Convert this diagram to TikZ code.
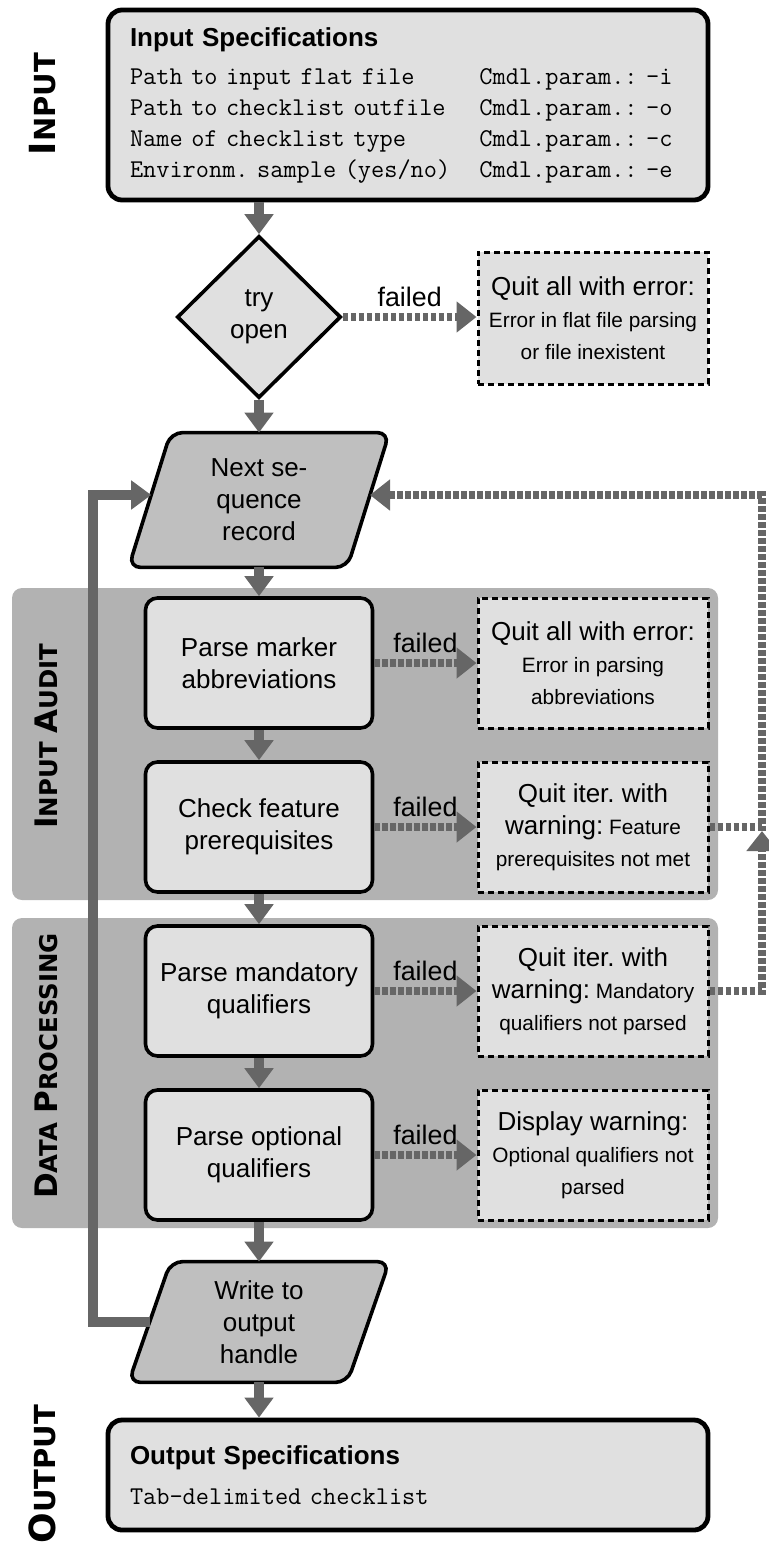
\documentclass[tikz,border=0pt]{standalone}
\usepackage{fontspec}
\setmainfont{Liberation Sans}
\newfontfamily\lblfont{DejaVu Sans}
\usetikzlibrary{arrows.meta,shapes.geometric,calc,backgrounds}
\definecolor{boxfill}{gray}{0.88}
\definecolor{grpfill}{gray}{0.70}
\definecolor{parafill}{gray}{0.75}
\definecolor{flowgray}{gray}{0.40}
\newcommand\Lg{\fontsize{13}{16}\selectfont}
\newcommand\Sm{\fontsize{10.4}{16}\selectfont}
\newcommand\topA[1]{{\fontsize{18}{18}\selectfont #1}}
\newcommand\topB[1]{{\fontsize{14.5}{14.5}\selectfont #1}}
\newcommand\grpA[1]{{\fontsize{15.5}{15.5}\selectfont #1}}
\newcommand\grpB[1]{{\fontsize{12.2}{12.2}\selectfont #1}}
\newcommand\monorow[2]{\makebox[174.72pt][l]{#1}#2}
\frenchspacing
\begin{document}
\begin{tikzpicture}[x=0.5pt,y=-0.5pt,
  mainbox/.style={draw=black, line width=2.4pt, rounded corners=7pt, fill=boxfill,
    text width=278pt, inner xsep=11pt, inner ysep=0pt, align=left,
    font=\ttfamily\fontsize{12.8}{15.5}\selectfont},
  procbox/.style={draw=black, line width=1.8pt, rounded corners=6pt, fill=boxfill,
    minimum width=113.5pt, minimum height=65pt, align=center, inner sep=2pt, font=\Lg},
  quitbox/.style={draw=black, line width=1.5pt, dash pattern=on 3pt off 2pt, fill=boxfill,
    minimum width=115pt, minimum height=65pt, align=center, inner sep=2pt, font=\Sm},
  paratext/.style={minimum width=130pt, align=center, inner sep=0pt, font=\Lg},
  parashape/.style={draw=black, line width=1.8pt, rounded corners=6pt, fill=parafill},
  decision/.style={diamond, draw=black, line width=1.8pt, fill=boxfill,
    minimum width=82pt, minimum height=81pt, inner sep=0pt, align=center, font=\Lg},
  flow/.style={draw=flowgray, line width=5pt, -{Triangle[width=14pt,length=10pt]}},
  fail/.style={draw=flowgray, line width=4pt, dash pattern=on 2.6pt off 1.4pt,
    -{Triangle[width=15pt,length=10pt]}},
  failtag/.style={font=\fontsize{13.4}{16}\selectfont, inner sep=3pt, above},
  group/.style={fill=grpfill, rounded corners=5pt},
  sidelabel/.style={rotate=90, anchor=base, font=\lblfont\bfseries\fontsize{13}{13}\selectfont, inner sep=0pt}
]
\useasboundingbox (0,0) rectangle (768,1542);

% groups
\fill[group] (12,588) rectangle (718,900);
\fill[group] (12,918) rectangle (718,1228);

% side labels
\node[sidelabel] (lblin) at (55,104) {\topA{I}\topB{NPUT}};
\node[sidelabel] (lblaudit) at (57,736) {\grpA{I}\grpB{NPUT} \grpA{A}\grpB{UDIT}};
\node[sidelabel] (lbldp) at (57,1066) {\grpA{D}\grpB{ATA} \grpA{P}\grpB{ROCESSING}};
\node[sidelabel] (lblout) at (55,1474) {\topA{O}\topB{UTPUT}};

% nodes
\node[mainbox, minimum height=95pt] (inp) at (408,105)
  {{\rmfamily\bfseries\fontsize{13}{15.5}\selectfont Input Specifications}\\[3.5pt]
   \monorow{Path to input flat file}{Cmdl.param.: -i}\\
   \monorow{Path to checklist outfile}{Cmdl.param.: -o}\\
   \monorow{Name of checklist type}{Cmdl.param.: -c}\\
   \monorow{Environm. sample (yes/no)}{Cmdl.param.: -e}};

\node[decision] (dia) at (259,317) {try\\open};
\node[quitbox, minimum height=66pt] (q1) at (593,318)
  {{\Lg Quit all with error:}\\Error in flat file parsing\\or file inexistent};

\node[paratext, minimum height=67pt] (rec) at (259,500) {Next se-\\quence\\record};

\node[procbox] (p1) at (259,663) {Parse marker\\abbreviations};
\node[quitbox] (q2) at (593,663) {{\Lg Quit all with error:}\\Error in parsing\\abbreviations};
\node[procbox] (p2) at (259,827) {Check feature\\prerequisites};
\node[quitbox] (q3) at (593,827) {{\Lg Quit iter. with}\\{\Lg warning:} Feature\\prerequisites not met};
\node[procbox] (p3) at (259,991) {Parse mandatory\\qualifiers};
\node[quitbox] (q4) at (593,991) {{\Lg Quit iter. with}\\{\Lg warning:} Mandatory\\qualifiers not parsed};
\node[procbox] (p4) at (259,1155) {Parse optional\\qualifiers};
\node[quitbox] (q5) at (593,1155) {{\Lg Display warning:}\\Optional qualifiers not\\parsed};

\node[paratext, minimum height=60pt] (wr) at (259,1322) {Write to\\output\\handle};

\node[mainbox, minimum height=55pt] (out) at (408,1475)
  {{\rmfamily\bfseries\fontsize{13}{15.5}\selectfont Output Specifications}\\[4.5pt]
   Tab-delimited checklist};

% parallelogram outlines
\begin{scope}[on background layer]
\draw[parashape] ($(rec.north west)+(42,0)$) -- (rec.north east) -- ($(rec.south east)+(-42,0)$) -- (rec.south west) -- cycle;
\draw[parashape] ($(wr.north west)+(42,0)$) -- (wr.north east) -- ($(wr.south east)+(-42,0)$) -- (wr.south west) -- cycle;
\end{scope}

% helper coordinates
\coordinate (wrL) at ($(wr.west)+(21,0)$);
\coordinate (recL) at ($(rec.west)+(22.6,-5)$);
\coordinate (recR) at ($(rec.east)+(-19.4,-5)$);
\coordinate (loopx) at (93,0);
\coordinate (fbx) at (762,0);

% main flow
\draw[flow] (inp.south -| dia.north) -- (dia.north);
\draw[fail] (dia.east) -- node[failtag]{failed} (dia.east -| q1.west);
\draw[flow] (dia.south) -- (rec.north);
\draw[flow] (rec.south) -- (p1.north);
\draw[fail] (p1.east) -- node[failtag]{failed} (q2.west);
\draw[flow] (p1.south) -- (p2.north);
\draw[fail] (p2.east) -- node[failtag]{failed} (q3.west);
\draw[flow] (p2.south) -- (p3.north);
\draw[fail] (p3.east) -- node[failtag]{failed} (q4.west);
\draw[flow] (p3.south) -- (p4.north);
\draw[fail] (p4.east) -- node[failtag]{failed} (q5.west);
\draw[flow] (p4.south) -- (wr.north);
\draw[flow] (wr.south) -- (wr.south |- out.north);

% loop back
\draw[flow] (wrL) -- (wrL -| loopx) |- (recL);

% feedback from warnings
\draw[fail] (q3.east) -- (q3.east -| fbx) |- (recR);
\draw[fail] (q4.east) -| ($(q3.east -| fbx)+(0,4)$);
\end{tikzpicture}
\end{document}
